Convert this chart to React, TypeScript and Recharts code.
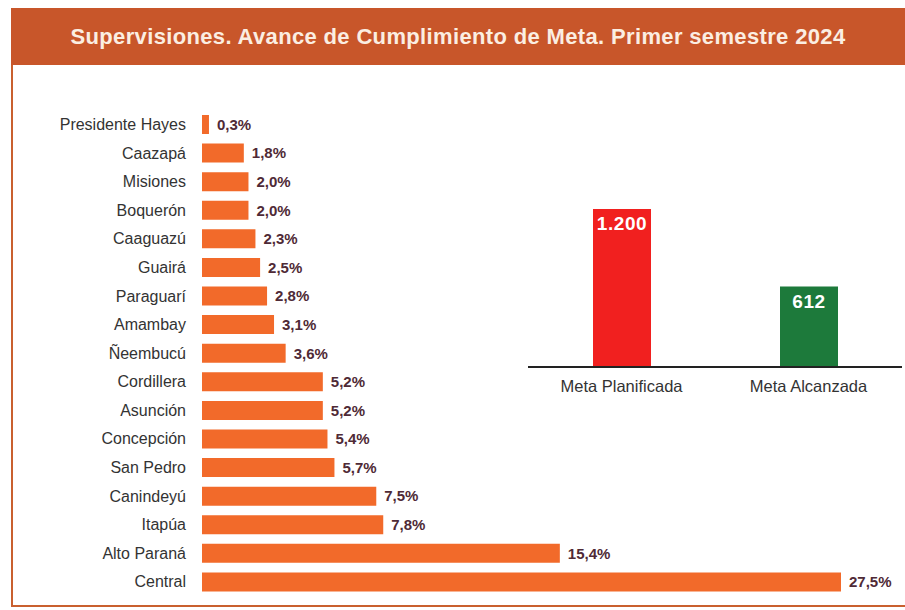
import React from 'react';
import { BarChart, Bar, XAxis, YAxis, LabelList, Cell } from 'recharts';

// Departamentos y porcentaje de avance (de arriba hacia abajo)
const departments = [
  'Presidente Hayes', 'Caazapá', 'Misiones', 'Boquerón', 'Caaguazú', 'Guairá',
  'Paraguarí', 'Amambay', 'Ñeembucú', 'Cordillera', 'Asunción', 'Concepción',
  'San Pedro', 'Canindeyú', 'Itapúa', 'Alto Paraná', 'Central',
];
const shares = [0.3, 1.8, 2.0, 2.0, 2.3, 2.5, 2.8, 3.1, 3.6, 5.2, 5.2, 5.4, 5.7, 7.5, 7.8, 15.4, 27.5];

// Meta planificada vs alcanzada
const goalLabels = ['Meta Planificada', 'Meta Alcanzada'];
const goalValues = [1200, 612];
const goalColors = ['#f1201f', '#1d7a3b'];

const TITLE = 'Supervisiones. Avance de Cumplimiento de Meta. Primer semestre 2024';
const FONT = '"Liberation Sans", Arial, sans-serif';

const deptData = departments.map((name, i) => ({ name, value: shares[i] }));
const goalData = goalLabels.map((name, i) => ({ name, value: goalValues[i] }));

const pct = (v: number) => `${v.toFixed(1).replace('.', ',')}%`;
const thousands = (v: number) => String(v).replace(/\B(?=(\d{3})+(?!\d))/g, '.');

export default function App() {
  return (
    <div style={{ position: 'absolute', left: 0, top: 0, width: 905, height: 610, background: '#fff', fontFamily: FONT }}>
      {/* marco naranja */}
      <div style={{ position: 'absolute', left: 11, top: 8, width: 900, height: 597, borderLeft: '2px solid #c9602f', borderBottom: '2px solid #c9602f' }} />
      <div
        style={{
          position: 'absolute', left: 11, top: 8, width: 894, height: 57, background: '#c8562a',
          color: '#fbeee2', fontWeight: 'bold', fontSize: 22, letterSpacing: 0.35, lineHeight: '58px', textAlign: 'center',
        }}
      >
        {TITLE}
      </div>

      <div style={{ position: 'absolute', left: 0, top: 0 }}>
        <BarChart
          width={905}
          height={610}
          data={deptData}
          layout="vertical"
          margin={{ top: 110, right: 64, bottom: 14, left: 0 }}
        >
          <XAxis type="number" domain={[0, 27.5]} hide />
          <YAxis
            type="category"
            dataKey="name"
            width={202}
            axisLine={false}
            tickLine={false}
            tickSize={0}
            tickMargin={16}
            tick={{ fill: '#333', fontSize: 16, fontFamily: FONT }}
            interval={0}
          />
          <Bar dataKey="value" fill="#f26a2a" barSize={19} isAnimationActive={false}>
            <LabelList
              dataKey="value"
              position="right"
              offset={8}
              formatter={(v: number) => pct(v)}
              style={{ fill: '#4f2a36', fontSize: 15, fontWeight: 'bold', fontFamily: FONT }}
            />
          </Bar>
        </BarChart>
      </div>

      <div style={{ position: 'absolute', left: 528, top: 180 }}>
        <BarChart width={374} height={230} data={goalData} margin={{ top: 29, right: 0, bottom: 13, left: 0 }}>
          <XAxis
            dataKey="name"
            axisLine={{ stroke: '#222', strokeWidth: 2 }}
            tickLine={false}
            tickSize={0}
            tickMargin={13}
            tick={{ fill: '#333', fontSize: 16.5, fontFamily: FONT }}
          />
          <YAxis hide domain={[0, 1200]} />
          <Bar dataKey="value" barSize={58} isAnimationActive={false}>
            {goalData.map((d, i) => (
              <Cell key={d.name} fill={goalColors[i]} />
            ))}
            <LabelList
              dataKey="value"
              position="insideTop"
              offset={8}
              formatter={(v: number) => thousands(v)}
              style={{ fill: '#fff', fontSize: 19, fontWeight: 'bold', letterSpacing: 0.6, fontFamily: FONT }}
            />
          </Bar>
        </BarChart>
      </div>
    </div>
  );
}
